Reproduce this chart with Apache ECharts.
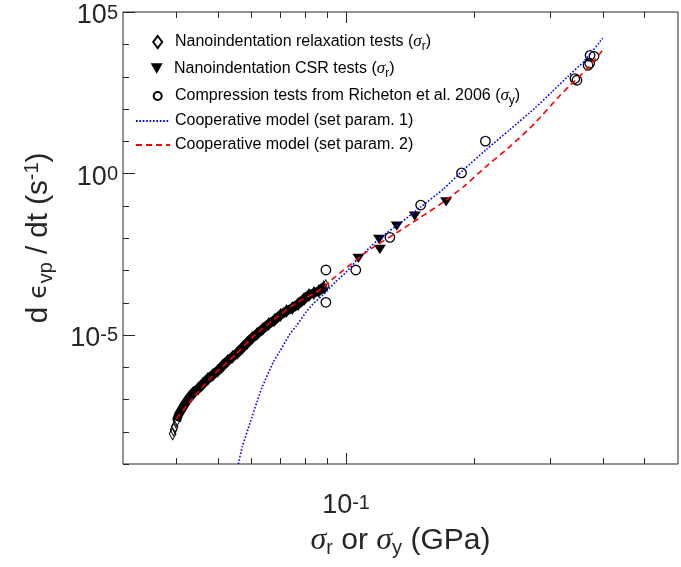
<!DOCTYPE html>
<html>
<head>
<meta charset="utf-8">
<script src="https://cdn.jsdelivr.net/npm/echarts@6/dist/echarts.min.js"></script>
<style>
  html, body { margin: 0; padding: 0; background: #fff; }
  #chart { width: 681px; height: 567px; }
</style>
</head>
<body>
<div id="chart"></div>
<script>
// stress (GPa) vs viscoplastic strain rate (1/s)
// nanoindentation relaxation tests
const relaxStress = [0.03922, 0.03942, 0.03963, 0.04005, 0.04047, 0.04112, 0.04178, 0.04268, 0.04382, 0.04499,
  0.04617, 0.04741, 0.04873, 0.05004, 0.05138, 0.05276, 0.05418, 0.05562, 0.05711, 0.05864,
  0.06022, 0.06184, 0.06382, 0.06588, 0.06801, 0.07021, 0.07248, 0.07482, 0.07724, 0.07974,
  0.08188, 0.08409, 0.08635, 0.08867, 0.08962];
const relaxRate = [8.6e-9, 1.15e-8, 1.42e-8, 2.18e-8, 3.34e-8, 4.77e-8, 6.8e-8, 1.04e-7, 1.6e-7, 2.13e-7,
  3.04e-7, 4.34e-7, 5.77e-7, 7.67e-7, 1.1e-6, 1.56e-6, 2.08e-6, 2.77e-6, 3.95e-6, 5.64e-6,
  8.05e-6, 1.07e-5, 1.53e-5, 2.18e-5, 2.9e-5, 4.14e-5, 5.5e-5, 6.8e-5, 9.06e-5, 1.29e-4,
  1.72e-4, 1.99e-4, 2.29e-4, 3.04e-4, 3.27e-4];
// nanoindentation CSR tests
const csrStress = [0.1069, 0.1195, 0.1200, 0.1315, 0.1449, 0.1716];
const csrRate = [2.35e-3, 9.1e-3, 4.46e-3, 0.0234, 0.0478, 0.132];
// compression tests, Richeton et al. 2006
const compStress = [0.0897, 0.0897, 0.1054, 0.1267, 0.1496, 0.1865, 0.2122, 0.344, 0.3478, 0.3693, 0.3726, 0.3733, 0.3813];
const compRate = [1.02e-3, 1.02e-4, 1.02e-3, 0.0105, 0.105, 1.04, 9.98, 868, 769, 2239, 2582, 4560, 4246];
// cooperative model, set param. 1
const model1Stress = [0.05591, 0.05711, 0.05959, 0.06184, 0.06350, 0.06766, 0.06985, 0.07366, 0.07645, 0.08060,
  0.08365, 0.08821, 0.09449, 0.09963, 0.1051, 0.1187, 0.1348, 0.1498, 0.1692, 0.1882,
  0.2126, 0.2414, 0.2770, 0.3031, 0.3317, 0.3611, 0.3995];
const model1Rate = [1e-9, 3.4e-9, 1.9e-8, 8.5e-8, 2.3e-7, 1.5e-6, 3.0e-6, 1.0e-5, 1.9e-5, 5.1e-5,
  9.1e-5, 1.7e-4, 4.4e-4, 8.3e-4, 1.8e-3, 8.7e-3, 0.031, 0.092, 0.33, 1.27,
  5.3, 22, 105, 326, 1030, 2970, 15400];
// cooperative model, set param. 2
const model2Stress = [0.0400, 0.04499, 0.04950, 0.05503, 0.06119, 0.06985, 0.07645, 0.08409, 0.08867, 0.09350,
  0.09806, 0.1125, 0.1348, 0.1547, 0.1692, 0.1882, 0.2126, 0.2414, 0.2770, 0.3146,
  0.3317, 0.3649, 0.3995];
const model2Rate = [2.5e-8, 1.7e-7, 6.7e-7, 2.4e-6, 1.0e-5, 4.1e-5, 9.8e-5, 1.9e-4, 3.0e-4, 5.7e-4,
  9.5e-4, 4.0e-3, 0.018, 0.059, 0.13, 0.38, 1.6, 6.5, 36, 230,
  470, 1580, 6500];

// axes
const xRange = [0.03, 0.6];
const yRange = [1e-9, 1e5];
const xMajorTicks = [0.1];
const xMinorTicks = [0.04, 0.05, 0.06, 0.07, 0.08, 0.09, 0.2, 0.3, 0.4, 0.5];
const yMajorTicks = [1e-5, 1, 1e5];
const yMinorTicks = [1e-9, 1e-8, 1e-7, 1e-6, 1e-4, 1e-3, 1e-2, 1e-1, 10, 100, 1e3, 1e4];

const names = [
  'Nanoindentation relaxation tests (σr)',
  'Nanoindentation CSR tests (σr)',
  'Compression tests from Richeton et al. 2006 (σy)',
  'Cooperative model (set param. 1)',
  'Cooperative model (set param. 2)'
];
const legendRich = {};
legendRich[names[0]] = 'Nanoindentation relaxation tests ({g|σ}{sub|r})';
legendRich[names[1]] = 'Nanoindentation CSR tests ({g|σ}{sub|r})';
legendRich[names[2]] = 'Compression tests from Richeton et al. 2006 ({g|σ}{sub|y})';
legendRich[names[3]] = names[3];
legendRich[names[4]] = names[4];

const AXIS = '#262626';
const FONT = 'Liberation Sans';
const lg = Math.log10;
const X0 = lg(xRange[0]), X1 = lg(xRange[1]);
const Y0 = lg(yRange[0]), Y1 = lg(yRange[1]);

function pairs(xs, ys) {
  return xs.map((x, i) => [lg(x), lg(ys[i])]);
}

const DIAMOND = 'path://M4.5,0L9,6L4.5,12L0,6Z';
const TRI_DOWN = 'path://M0,0L12,0L6,10.5Z';

// tick marks drawn inside the box, bottom+top or left
function tickSeries(vals, axis, len) {
  return {
    type: 'custom',
    silent: true,
    clip: false,
    z: 5,
    encode: { x: 0, y: 1 },
    data: vals.map(v => axis === 'x' ? [lg(v), Y0] : [X0, lg(v)]),
    renderItem: (params, api) => {
      const cs = params.coordSys;
      const p = api.coord([api.value(0), api.value(1)]);
      const st = { stroke: AXIS, lineWidth: 1 };
      if (axis === 'x') {
        const x = Math.round(p[0]) + 0.5;
        const yb = cs.y + cs.height, yt = cs.y;
        return { type: 'group', children: [
          { type: 'line', shape: { x1: x, y1: yb, x2: x, y2: yb - len }, style: st },
          { type: 'line', shape: { x1: x, y1: yt, x2: x, y2: yt + len }, style: st }
        ] };
      }
      const y = Math.round(p[1]) + 0.5;
      return { type: 'line', shape: { x1: cs.x, y1: y, x2: cs.x + len, y2: y }, style: st };
    }
  };
}

// one legend per row so every icon and text sits where the reference has it
function legendRow(name, top, left, w, h, isLine) {
  return {
    data: [isLine ? { name: name, itemStyle: { opacity: 0 } } : name],
    top: top,
    left: left,
    itemWidth: w,
    itemHeight: h,
    padding: 0,
    selectedMode: false,
    formatter: n => legendRich[n],
    textStyle: {
      fontFamily: FONT, fontSize: 16, color: '#000', lineHeight: 22,
      rich: {
        g: { fontFamily: 'Liberation Serif', fontStyle: 'italic', fontSize: 17, color: '#000', lineHeight: 22 },
        sub: { fontFamily: FONT, fontSize: 12, color: '#000', verticalAlign: 'bottom', lineHeight: 12 }
      }
    }
  };
}

const powRich = {
  b: { fontFamily: FONT, fontSize: 27, color: AXIS, lineHeight: 26 },
  s: { fontFamily: FONT, fontSize: 20, color: AXIS, verticalAlign: 'top', lineHeight: 11 }
};

const chart = echarts.init(document.getElementById('chart'));
chart.setOption({
  animation: false,
  backgroundColor: '#fff',
  grid: {
    left: 123, top: 12, width: 566, height: 452,
    show: true, borderColor: AXIS, borderWidth: 1, backgroundColor: 'transparent'
  },
  legend: [
    legendRow(names[0], 31, 152.2, 24.6, 12, false),
    legendRow(names[1], 57.5, 150.7, 24.6, 10.5, false),
    legendRow(names[2], 85, 152.7, 24.6, 8, false),
    legendRow(names[3], 110, 135, 34, 10, true),
    legendRow(names[4], 134, 135, 34, 10, true)
  ],
  xAxis: {
    type: 'value',
    min: X0, max: X1,
    splitNumber: 13,
    axisLine: { show: false },
    axisTick: { show: false },
    splitLine: { show: false },
    axisLabel: {
      margin: 21,
      padding: [8, 0, 0, 0],
      formatter: v => Math.abs(v + 1) < 1e-6 ? '{b|10}{s|-1}' : '',
      rich: powRich
    },
    name: '{g|σ}{sub|r}{n| or }{g|σ}{sub|y}{n| (GPa)}',
    nameLocation: 'middle',
    nameGap: 56,
    nameTextStyle: {
      color: AXIS,
      rich: {
        n: { fontFamily: FONT, fontSize: 30, color: AXIS, lineHeight: 36 },
        g: { fontFamily: 'Liberation Serif', fontStyle: 'italic', fontSize: 32, color: AXIS, lineHeight: 36 },
        sub: { fontFamily: FONT, fontSize: 20, color: AXIS, verticalAlign: 'bottom', lineHeight: 20 }
      }
    }
  },
  yAxis: {
    type: 'value',
    min: Y0, max: Y1,
    interval: 1,
    axisLine: { show: false },
    axisTick: { show: false },
    splitLine: { show: false },
    axisLabel: {
      margin: 5,
      padding: [8, 0, 0, 0],
      formatter: v => (Math.round(v) % 5 === 0) ? '{b|10}{s|' + Math.round(v) + '}' : '',
      rich: powRich
    },
    name: '{n|d }{e|ϵ}{sub|vp}{n| / dt (s}{sup|-1}{n|)}',
    nameLocation: 'middle',
    nameRotate: 90,
    nameGap: 67,
    nameTextStyle: {
      color: AXIS,
      rich: {
        n: { fontFamily: FONT, fontSize: 29.5, color: AXIS, lineHeight: 34 },
        e: { fontFamily: 'DejaVu Sans', fontSize: 25, color: AXIS, lineHeight: 34 },
        sub: { fontFamily: FONT, fontSize: 20, color: AXIS, verticalAlign: 'bottom', lineHeight: 20 },
        sup: { fontFamily: FONT, fontSize: 20, color: AXIS, verticalAlign: 'top', lineHeight: 20 }
      }
    }
  },
  series: [
    {
      // dense relaxation data reads as a solid band
      name: 'relaxBand',
      type: 'line',
      data: pairs(relaxStress.slice(3), relaxRate.slice(3)),
      symbol: 'none',
      silent: true,
      lineStyle: { color: '#000', width: 9 }
    },
    {
      name: names[0],
      type: 'scatter',
      data: pairs(relaxStress, relaxRate),
      symbol: DIAMOND,
      symbolSize: [9, 12],
      symbolKeepAspect: true,
      itemStyle: { color: 'rgba(0,0,0,0)', borderColor: '#000', borderWidth: 1, opacity: 1 }
    },
    {
      name: names[1],
      type: 'scatter',
      data: pairs(csrStress, csrRate),
      symbol: TRI_DOWN,
      symbolSize: [12, 10.5],
      symbolKeepAspect: true,
      itemStyle: { color: '#000', opacity: 1 }
    },
    {
      name: names[2],
      type: 'scatter',
      data: pairs(compStress, compRate),
      symbol: 'circle',
      symbolSize: 9.5,
      itemStyle: { color: 'rgba(0,0,0,0)', borderColor: '#000', borderWidth: 1.3, opacity: 1 }
    },
    {
      name: names[3],
      type: 'line',
      data: pairs(model1Stress, model1Rate),
      symbol: 'none',
      smooth: 0.2,
      itemStyle: { color: '#0000ff' },
      lineStyle: { color: '#0000ff', width: 1.6, type: [1.6, 1.8] }
    },
    {
      name: names[4],
      type: 'line',
      data: pairs(model2Stress, model2Rate),
      symbol: 'none',
      smooth: 0.2,
      itemStyle: { color: '#ff0000' },
      lineStyle: { color: '#ff0000', width: 1.6, type: [6, 4] }
    },
    tickSeries(xMajorTicks, 'x', 11),
    tickSeries(xMinorTicks, 'x', 6),
    tickSeries(yMajorTicks, 'y', 12),
    tickSeries(yMinorTicks, 'y', 6)
  ]
});
</script>
</body>
</html>
